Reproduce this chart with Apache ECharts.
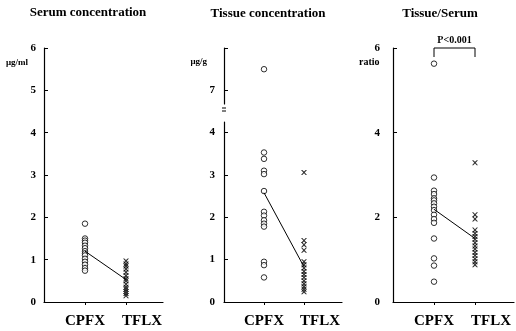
<!DOCTYPE html>
<html><head><meta charset="utf-8">
<script src="https://cdn.jsdelivr.net/npm/echarts@6/dist/echarts.min.js"></script>
<style>html,body{margin:0;padding:0;background:#fff}#c{width:516px;height:331px}</style>
</head><body><div id="c"></div>
<script>
const groups = ['CPFX', 'TFLX'];
const serumCPFX = [1.85, 1.5, 1.45, 1.4, 1.33, 1.27, 1.2, 1.15, 1.1, 1.02, 0.95, 0.88, 0.8, 0.74];
const serumTFLX = [0.97, 0.9, 0.85, 0.78, 0.7, 0.62, 0.55, 0.5, 0.42, 0.35, 0.3, 0.25, 0.2, 0.15];
const tissueCPFX = [7.5, 3.53, 3.38, 3.1, 3.02, 2.62, 2.13, 2.04, 1.93, 1.85, 1.78, 0.95, 0.87, 0.58];
const tissueTFLX = [3.06, 1.45, 1.35, 1.22, 0.95, 0.88, 0.8, 0.72, 0.65, 0.58, 0.5, 0.43, 0.36, 0.3, 0.24];
const ratioCPFX = [5.63, 2.94, 2.63, 2.55, 2.45, 2.4, 2.33, 2.25, 2.17, 2.06, 1.96, 1.87, 1.5, 1.03, 0.86, 0.48];
const ratioTFLX = [3.29, 2.06, 1.96, 1.7, 1.62, 1.55, 1.48, 1.4, 1.32, 1.25, 1.17, 1.1, 1.02, 0.95, 0.88];
const serumMeans = [1.2, 0.53];
const tissueMeans = [2.58, 0.83];
const ratioMeans = [2.19, 1.5];
const serumTicks = [0, 1, 2, 3, 4, 5, 6];
const tissueLowTicks = [0, 1, 2, 3, 4];
const tissueHighTicks = [7, 8];
const tissueHighLabels = [7];
const ratioTicks = [0, 2, 4, 6];
const breakLow = 4.25, breakHigh = 6.68;
const titles = ['Serum concentration', 'Tissue concentration', 'Tissue/Serum'];
const units = ['μg/ml', 'μg/g', 'ratio'];
const pLabel = 'P<0.001';

const SERIF = '"Liberation Serif", "DejaVu Serif", serif';
const chart = echarts.init(document.getElementById('c'), null, {renderer: 'canvas'});

const grids = [
  {left: 44, top: 48, width: 119, height: 254},
  {left: 224, top: 122, width: 118, height: 180},
  {left: 224, top: 48, width: 118, height: 56},
  {left: 393, top: 48, width: 121, height: 254}
];
const xMax = [119 / 41, 118 / 40, 118 / 40, 121 / 41];

const lblFont = {fontFamily: SERIF, fontWeight: 'bold', fontSize: 15, color: '#000'};
function xAx(gi, show) {
  return {
    type: 'value', gridIndex: gi, min: 0, max: xMax[gi], splitLine: {show: false},
    axisLine: {show: show, onZero: false, lineStyle: {color: '#000', width: 1.2}},
    axisTick: {show: show, customValues: [1, 2], length: 3, lineStyle: {color: '#000', width: 1}},
    axisLabel: Object.assign({show: show, customValues: [1, 2],
      formatter: v => (Math.round(v) === 1 ? '{c|' : '{t|') + groups[Math.round(v) - 1] + '}',
      rich: {c: Object.assign({}, lblFont), t: Object.assign({padding: [0, 0, 0, 32]}, lblFont)},
      showMinLabel: true, showMaxLabel: true, hideOverlap: false, margin: 12}, lblFont)
  };
}
function yAx(gi, min, max, ticks, labels, margin) {
  return {
    type: 'value', gridIndex: gi, min: min, max: max, splitLine: {show: false},
    axisLine: {show: true, onZero: false, lineStyle: {color: '#000', width: 1.2}},
    axisTick: {show: true, inside: true, length: 4, customValues: ticks, lineStyle: {color: '#000', width: 1}},
    axisLabel: {show: true, customValues: labels, margin: margin, fontFamily: SERIF, fontWeight: 'bold',
      showMinLabel: true, showMaxLabel: true, fontSize: 11, color: '#000'}
  };
}

const circleStyle = {color: '#fff', borderColor: '#000', borderWidth: 1};
const xSym = 'path://M0,0L2.2,0L5,3.2L7.8,0L10,0L6.3,5L10,10L7.8,10L5,6.8L2.2,10L0,10L3.7,5Z';

function circles(xi, yi, vals) {
  return {type: 'scatter', xAxisIndex: xi, yAxisIndex: yi, symbol: 'circle', symbolSize: 5.5,
    itemStyle: circleStyle, data: vals.map(v => [1, v]), silent: true, z: 3};
}
function crosses(xi, yi, vals) {
  return {type: 'scatter', xAxisIndex: xi, yAxisIndex: yi, symbol: xSym, symbolSize: [6, 5],
    itemStyle: {color: '#000'}, data: vals.map(v => [2, v]), silent: true, z: 3};
}
function meanLine(xi, yi, m) {
  return {type: 'line', xAxisIndex: xi, yAxisIndex: yi, data: [[1, m[0]], [2, m[1]]],
    symbol: 'none', lineStyle: {color: '#000', width: 1}, silent: true, z: 4};
}
const low = a => a.filter(v => v <= breakLow);
const high = a => a.filter(v => v >= breakHigh);

const option = {
  animation: false,
  backgroundColor: '#fff',
  grid: grids,
  xAxis: [xAx(0, true), xAx(1, true), xAx(2, false), xAx(3, true)],
  yAxis: [
    yAx(0, 0, 6, serumTicks, serumTicks, 8),
    yAx(1, 0, breakLow, tissueLowTicks, tissueLowTicks, 9),
    yAx(2, breakHigh, 8, tissueHighTicks, tissueHighLabels, 9),
    yAx(3, 0, 6, ratioTicks, ratioTicks, 13)
  ],
  series: [
    circles(0, 0, serumCPFX), crosses(0, 0, serumTFLX), meanLine(0, 0, serumMeans),
    circles(1, 1, low(tissueCPFX)), crosses(1, 1, low(tissueTFLX)), meanLine(1, 1, tissueMeans),
    circles(2, 2, high(tissueCPFX)), crosses(2, 2, high(tissueTFLX)),
    circles(3, 3, ratioCPFX), crosses(3, 3, ratioTFLX), meanLine(3, 3, ratioMeans)
  ]
};
chart.setOption(option);

const tStyle = (text, size, align) => ({text: text, fill: '#000', font: 'bold ' + size + 'px ' + SERIF,
  textAlign: align, textVerticalAlign: 'middle'});
const a = chart.convertToPixel({gridIndex: 3}, [1, 6]);
const b = chart.convertToPixel({gridIndex: 3}, [2, 6]);
const g = [
  {type: 'text', x: 88, y: 13, style: tStyle(titles[0], 13, 'center')},
  {type: 'text', x: 268, y: 14, style: tStyle(titles[1], 13, 'center')},
  {type: 'text', x: 440, y: 14, style: tStyle(titles[2], 13, 'center')},
  {type: 'text', x: 6, y: 63, style: tStyle(units[0], 9, 'left')},
  {type: 'text', x: 207, y: 62, style: tStyle(units[1], 9, 'right')},
  {type: 'text', x: 359, y: 62, style: tStyle(units[2], 10, 'left')},
  {type: 'text', x: (a[0] + b[0]) / 2, y: 40, style: tStyle(pLabel, 10, 'center')},
  {type: 'polyline', shape: {points: [[a[0], a[1] + 9], [a[0], a[1]], [b[0], b[1]], [b[0], b[1] + 9]]},
    style: {stroke: '#000', lineWidth: 1, fill: null}},
  {type: 'line', shape: {x1: 222, y1: 108, x2: 226, y2: 108}, style: {stroke: '#000', lineWidth: 1}},
  {type: 'line', shape: {x1: 222, y1: 111, x2: 226, y2: 111}, style: {stroke: '#000', lineWidth: 1}}
];
chart.setOption({graphic: g});
</script></body></html>
